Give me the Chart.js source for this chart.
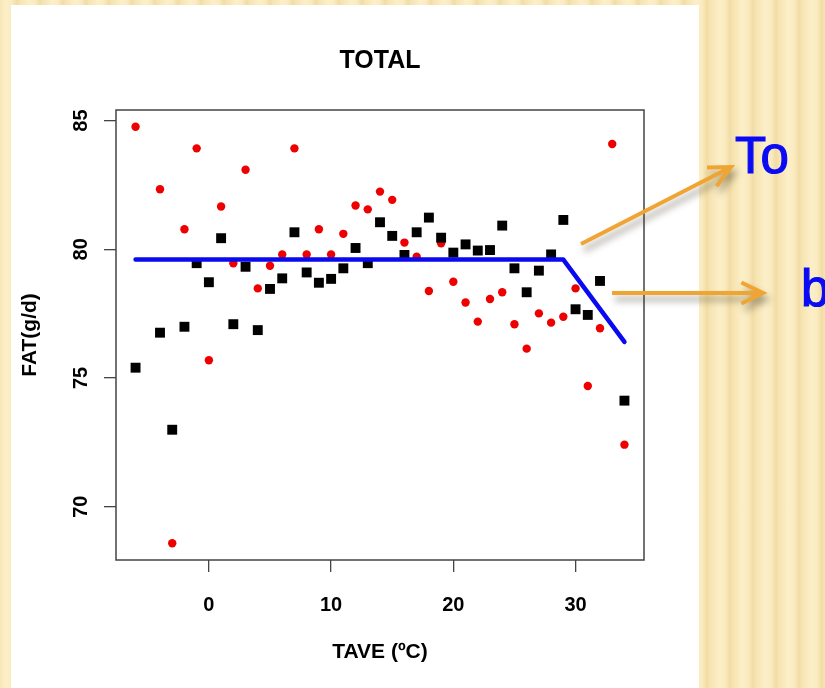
<!DOCTYPE html>
<html><head><meta charset="utf-8">
<script src="https://cdn.jsdelivr.net/npm/chart.js@4.4.1/dist/chart.umd.min.js"></script>
<style>
html,body{margin:0;padding:0;width:825px;height:688px;overflow:hidden;}
body{background:repeating-linear-gradient(90deg,#f8e7b8 0px,#fcefc8 6px,#faebc0 12px,#f2dca4 17px,#f6e4b2 20px,#f8e7b8 23px);}
#panel{position:absolute;left:11px;top:5px;width:688px;height:683px;background:#fff;}
#wrap{position:absolute;left:0;top:0;width:825px;height:688px;}
</style></head><body>
<div id="panel"></div>
<div id="wrap"><canvas id="c" width="825" height="688"></canvas></div>
<script>
// ---- data ----
const chartTitle = 'TOTAL';
const xTitle = 'TAVE (ºC)';
const yTitle = 'FAT(g/d)';
const xTicks = [0, 10, 20, 30];
const yTicks = [70, 75, 80, 85];

const redX = [-6,-4,-3,-2,-1,0,1,2,3,4,5,6,7,8,9,10,11,12,13,14,15,16,17,18,19,20,21,22,23,24,25,26,27,28,29,30,31,32,33,34];
const redY = [84.76,82.33,68.58,80.78,83.92,75.69,81.66,79.46,83.09,78.48,79.36,79.8,83.92,79.8,80.78,79.8,80.6,81.7,81.55,82.24,81.92,80.26,79.71,78.38,80.23,78.74,77.93,77.19,78.07,78.33,77.09,76.14,77.51,77.15,77.38,78.48,74.69,76.93,84.09,72.41];

const blackX = [-6,-4,-3,-2,-1,0,1,2,3,4,5,6,7,8,9,10,11,12,13,14,15,16,17,18,19,20,21,22,23,24,25,26,27,28,29,30,31,32,34];
const blackY = [75.4,76.76,72.99,76.99,79.46,78.72,80.43,77.09,79.32,76.86,78.46,78.87,80.66,79.1,78.7,78.85,79.26,80.05,79.46,81.05,80.52,79.78,80.66,81.23,80.45,79.87,80.19,79.95,79.97,80.92,79.26,78.33,79.17,79.8,81.14,77.67,77.45,78.77,74.12];

const fitX = [-6, 29, 34];
const fitY = [79.6, 79.6, 76.4];

const annoTo = 'To';
const annoB = 'b';

const pts = (xs, ys) => xs.map((x, i) => ({x: x, y: ys[i]}));

const AXFONT = 'Liberation Sans, Arial, Helvetica, sans-serif';

const framePlugin = {
  id: 'frame',
  afterDraw(chart) {
    const ctx = chart.ctx, a = chart.chartArea;
    ctx.save();
    ctx.strokeStyle = '#444';
    ctx.lineWidth = 1.5;
    ctx.strokeRect(a.left, a.top, a.right - a.left, a.bottom - a.top);
    // y tick labels, rotated as in R (las = 0)
    const ys = chart.scales.y;
    ctx.fillStyle = '#000';
    ctx.font = 'bold 20px ' + AXFONT;
    ctx.textAlign = 'center';
    ctx.textBaseline = 'middle';
    ys.ticks.forEach(t => {
      const py = ys.getPixelForValue(t.value);
      ctx.save();
      ctx.translate(81, py);
      ctx.rotate(-Math.PI / 2);
      ctx.fillText(String(t.value), 0, 0);
      ctx.restore();
    });
    ctx.restore();
  }
};

function arrow(ctx, x1, y1, x2, y2) {
  const ang = Math.atan2(y2 - y1, x2 - x1);
  const hl = 24, ha = 0.45;
  ctx.beginPath();
  ctx.moveTo(x1, y1);
  ctx.lineTo(x2, y2);
  ctx.moveTo(x2 - hl * Math.cos(ang - ha), y2 - hl * Math.sin(ang - ha));
  ctx.lineTo(x2, y2);
  ctx.lineTo(x2 - hl * Math.cos(ang + ha), y2 - hl * Math.sin(ang + ha));
  ctx.stroke();
}

const annoPlugin = {
  id: 'anno',
  afterDraw(chart) {
    const ctx = chart.ctx;
    ctx.save();
    ctx.shadowColor = 'rgba(60,50,30,0.45)';
    ctx.shadowBlur = 7;
    ctx.shadowOffsetX = 3;
    ctx.shadowOffsetY = 6;
    ctx.strokeStyle = '#f0a431';
    ctx.lineWidth = 4;
    ctx.lineCap = 'butt';
    ctx.lineJoin = 'miter';
    arrow(ctx, 581, 244, 731, 167);
    arrow(ctx, 612, 293, 763, 293);
    ctx.restore();
    ctx.save();
    ctx.fillStyle = '#0a0af5';
    ctx.font = '51px "Liberation Sans Narrow", "Liberation Sans", Arial, sans-serif';
    ctx.textAlign = 'left';
    ctx.textBaseline = 'alphabetic';
    ctx.lineWidth = 1.2;
    ctx.strokeStyle = '#0a0af5';
    ctx.fillText(annoTo, 735, 173);
    ctx.strokeText(annoTo, 735, 173);
    ctx.fillText(annoB, 801, 306);
    ctx.strokeText(annoB, 801, 306);
    ctx.restore();
  }
};

new Chart(document.getElementById('c'), {
  type: 'scatter',
  data: {
    datasets: [
      {
        type: 'line',
        label: 'fit',
        data: pts(fitX, fitY),
        borderColor: '#0a0af0',
        borderWidth: 4.5,
        pointRadius: 0,
        fill: false,
        tension: 0,
        borderJoinStyle: 'round',
        borderCapStyle: 'round'
      },
      {
        label: 'black',
        data: pts(blackX, blackY),
        pointStyle: 'rect',
        pointRadius: 7,
        pointBorderWidth: 0,
        backgroundColor: '#000',
        borderColor: '#000'
      },
      {
        label: 'red',
        data: pts(redX, redY),
        pointStyle: 'circle',
        pointRadius: 4.2,
        pointBorderWidth: 0,
        backgroundColor: '#ee0000',
        borderColor: '#ee0000'
      }
    ]
  },
  options: {
    responsive: false,
    animation: false,
    events: [],
    layout: {padding: {left: 0, top: 0, right: 181, bottom: 0}},
    plugins: {
      legend: {display: false},
      tooltip: {enabled: false},
      title: {
        display: true,
        text: chartTitle,
        fullSize: false,
        color: '#000',
        font: {family: AXFONT, size: 25, weight: 'bold', lineHeight: 1.2},
        padding: {top: 46, bottom: 34}
      }
    },
    scales: {
      x: {
        type: 'linear',
        min: -7.6,
        max: 35.6,
        afterBuildTicks: s => { s.ticks = xTicks.map(v => ({value: v})); },
        afterFit: s => { s.height = 128; },
        grid: {drawOnChartArea: false, drawTicks: true, tickLength: 12, color: '#444', lineWidth: 1.3},
        border: {display: false},
        ticks: {color: '#000', font: {family: AXFONT, size: 20, weight: 'bold'}, padding: 21, maxRotation: 0},
        title: {display: true, text: xTitle, color: '#000', font: {family: AXFONT, size: 21, weight: 'bold'}, padding: {top: 0, bottom: 23}}
      },
      y: {
        type: 'linear',
        min: 67.93,
        max: 85.41,
        afterBuildTicks: s => { s.ticks = yTicks.map(v => ({value: v})); },
        afterFit: s => { s.width = 116; },
        grid: {drawOnChartArea: false, drawTicks: true, tickLength: 12, color: '#444', lineWidth: 1.3},
        border: {display: false},
        ticks: {display: false},
        title: {display: true, text: yTitle, color: '#000', font: {family: AXFONT, size: 21, weight: 'bold'}, padding: {top: 18, bottom: 0}}
      }
    }
  },
  plugins: [framePlugin, annoPlugin]
});
</script>
</body></html>
